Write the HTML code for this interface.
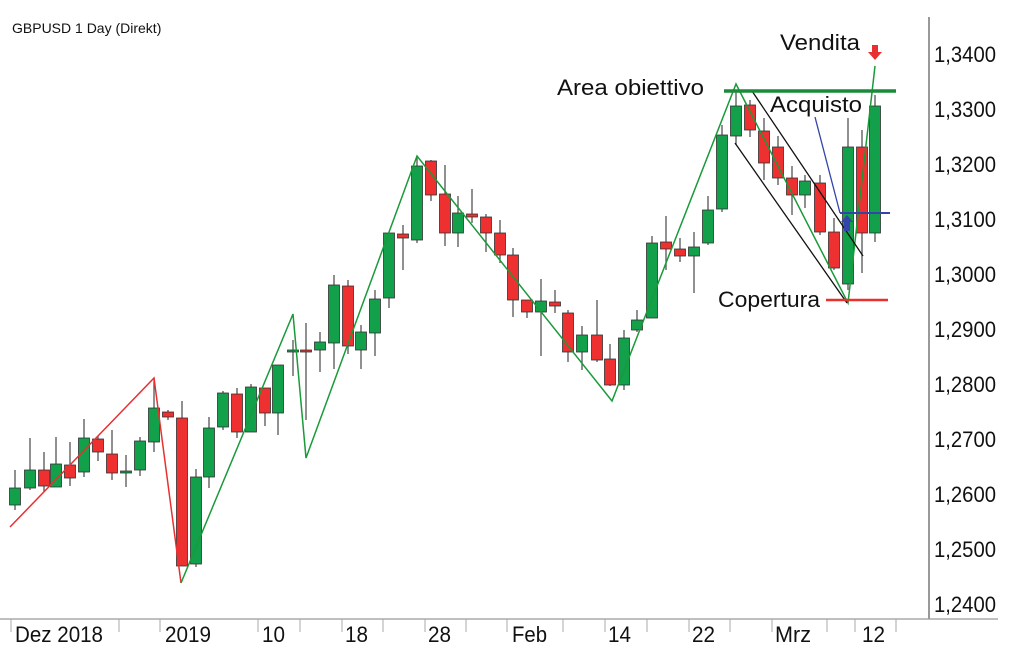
<!DOCTYPE html>
<html><head><meta charset="utf-8"><style>
html,body{margin:0;padding:0;background:#fff;}
svg{display:block;font-family:"Liberation Sans",sans-serif;}
</style></head><body>
<svg id="s" width="1010" height="656" viewBox="0 0 1010 656" xmlns="http://www.w3.org/2000/svg">
<rect width="1010" height="656" fill="#fff"/>
<text x="12" y="33" font-size="14" fill="#111">GBPUSD 1 Day (Direkt)</text>
<line x1="929" y1="17" x2="929" y2="619" stroke="#333" stroke-width="1"/>
<line x1="0" y1="619" x2="998" y2="619" stroke="#999" stroke-width="1.2"/>
<g id="yl" font-size="22" fill="#111"></g>
<g id="xl" font-size="22" fill="#111"></g>
<g id="ticks" stroke="#aaa" stroke-width="1"></g>
<g id="c"></g>
<g fill="none" stroke-width="1.5">
<polyline points="10,527 154,378 181,583" stroke="#e83030"/>
<polyline points="181,583 293,314 306,458 417,156 612,401 736,84 848,303 875,66" stroke="#1a9a3a"/>
<line x1="752" y1="91" x2="863" y2="256" stroke="#111" stroke-width="1.3"/>
<line x1="735" y1="143" x2="847" y2="303" stroke="#111" stroke-width="1.3"/>
<line x1="815" y1="117" x2="840" y2="213" stroke="#3344aa" stroke-width="1.3"/>
<line x1="840" y1="213" x2="890" y2="213" stroke="#3344aa" stroke-width="2"/>
</g>
<line x1="724" y1="91" x2="896" y2="91" stroke="#1a8a3a" stroke-width="3.5"/>
<line x1="826" y1="300" x2="888" y2="300" stroke="#e83030" stroke-width="2.5"/>
<polygon points="847,215 853,222 850,222 850,231 844,231 844,222 841,222" fill="#3344aa"/>
<polygon points="872,45 878,45 878,52 882,52 875,60 868,52 872,52" fill="#e83030"/>
<g font-size="22" fill="#111">
<text x="780" y="50" textLength="80" lengthAdjust="spacingAndGlyphs">Vendita</text>
<text x="557" y="95" textLength="147" lengthAdjust="spacingAndGlyphs">Area obiettivo</text>
<text x="770" y="112" textLength="92" lengthAdjust="spacingAndGlyphs">Acquisto</text>
<text x="718" y="307" textLength="102" lengthAdjust="spacingAndGlyphs">Copertura</text>
</g>
</svg>
<script>
var NS="http://www.w3.org/2000/svg";
function el(p,t,a,txt){var e=document.createElementNS(NS,t);for(var k in a)e.setAttribute(k,a[k]);if(txt)e.textContent=txt;p.appendChild(e);return e;}
var yl=document.getElementById('yl');
for(var i=0;i<=10;i++){var y=604-i*55;var v=(1.24+i*0.01).toFixed(4).replace('.',',');
el(yl,'text',{x:934,y:y+8,textLength:62,lengthAdjust:'spacingAndGlyphs'},v);}
var xl=document.getElementById('xl');
[[15,"Dez 2018",88],[165,"2019",46],[262,"10",23],[345,"18",23],[428,"28",23],[512,"Feb",35],[608,"14",23],[692,"22",23],[775,"Mrz",36],[862,"12",23]].forEach(function(a){el(xl,'text',{x:a[0],y:642,textLength:a[2],lengthAdjust:'spacingAndGlyphs'},a[1]);});
var tk=document.getElementById('ticks');
[11,119,160,258,300,342,383,425,466,507,563,605,647,689,730,772,827,855,896].forEach(function(x){el(tk,'line',{x1:x,y1:619,x2:x,y2:632});});
var C=[[15,505,488,470,510],[30,488,470,438,490],[44,470,486,452,492],[56,487,464,437,487],[70,465,478,442,486],[84,472,438,419,477],[98,439,452,436,461],[112,454,473,430,480],[126,472,471,455,487],[140,470,441,437,476],[154,442,408,378,452],[168,412,417,410,420],[182,418,566,401,566],[196,564,477,469,567],[209,477,428,417,488],[223,427,393,391,430],[237,394,432,388,438],[251,432,387,384,432],[265,388,413,388,426],[278,413,365,365,435],[293,352,350,340,376],[306,350,351,323,420],[320,350,342,332,372],[334,343,285,275,369],[348,286,346,280,354],[361,350,332,325,369],[375,333,299,290,356],[389,298,233,233,308],[403,234,238,225,270],[417,240,166,156,243],[431,161,195,160,201],[445,194,233,165,246],[458,233,213,196,247],[472,214,217,189,223],[486,217,233,214,252],[500,233,255,220,263],[513,255,300,248,317],[527,300,312,300,318],[541,312,301,279,356],[555,302,306,290,313],[568,313,352,310,362],[582,352,335,326,370],[597,335,360,300,362],[610,359,385,344,386],[624,385,338,330,390],[637,330,320,310,332],[652,318,243,236,317],[666,242,249,216,270],[680,249,256,238,262],[694,256,247,232,293],[708,243,210,196,245],[722,209,135,125,212],[736,136,106,90,145],[750,105,130,100,137],[764,131,163,118,180],[778,147,178,136,185],[792,178,195,166,215],[805,195,181,175,208],[820,183,232,175,235],[834,232,268,218,270],[848,284,147,118,290],[862,147,233,130,273],[875,233,106,95,242]];
var g=document.getElementById('c');
C.forEach(function(c){var x=c[0],o=c[1],cl=c[2],h=c[3],l=c[4];var up=cl<o;
el(g,'line',{x1:x,y1:h,x2:x,y2:l,stroke:'#555','stroke-width':1.3});
var t=Math.min(o,cl),b=Math.max(o,cl);if(b-t<2){b=t+2;}
el(g,'rect',{x:x-5.5,y:t,width:11,height:b-t,fill:up?'#12a04a':'#ee3030',stroke:'#333','stroke-width':0.8});});
</script>
</body></html>
